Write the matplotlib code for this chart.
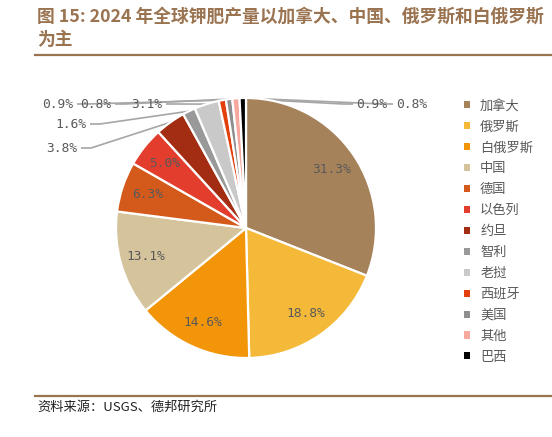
import matplotlib.pyplot as plt
from matplotlib.lines import Line2D
from matplotlib.patches import Patch
import numpy as np

plt.rcParams['font.family'] = ['Noto Sans CJK SC', 'DejaVu Sans']

# ── 数据 ──────────────────────────────────────────────────────────────
countries = ["加拿大", "俄罗斯", "白俄罗斯", "中国", "德国", "以色列", "约旦",
             "智利", "老挝", "西班牙", "美国", "其他", "巴西"]
shares = [31.3, 18.8, 14.6, 13.1, 6.3, 5.0, 3.8, 1.6, 3.1, 0.9, 0.8, 0.9, 0.8]
colors = ["#A6825B", "#F4B938", "#F39508", "#D5C39C", "#D45A1C", "#E23D2D",
          "#A32D12", "#999999", "#C9C9C9", "#E2400C", "#8F8F8F", "#F6A89E",
          "#000000"]

title_lines = ["图 15: 2024 年全球钾肥产量以加拿大、中国、俄罗斯和白俄罗斯", "为主"]
source = "资料来源：USGS、德邦研究所"

W, H = 552, 437
CX, CY, R = 246, 228, 130
TXT = "#595959"
BROWN = "#9A7350"
PCT_FONT = ["DejaVu Sans Mono"]


def px(x, y):
    """像素坐标 -> 数据坐标 (1 = 半径)"""
    return (x - CX) / R, (CY - y) / R


fig = plt.figure(figsize=(W / 100, H / 100), dpi=100)
ax = fig.add_axes([0, 0, 1, 1])

wedges, _ = ax.pie(shares, colors=colors, startangle=90, counterclock=False,
                   radius=1, wedgeprops=dict(edgecolor="white", linewidth=1.6))
ax.set_xlim(-CX / R, (W - CX) / R)
ax.set_ylim(-(H - CY) / R, CY / R)
ax.axis("off")

# 内部标签
for w, v in zip(wedges, shares):
    if v < 5:
        continue
    a = np.deg2rad((w.theta1 + w.theta2) / 2)
    ax.text(0.8 * np.cos(a), 0.8 * np.sin(a), f"{v:.1f}%", ha="center",
            va="center", fontsize=9.3, color=TXT, family=PCT_FONT)

# 外部标签 + 引导线: index -> (文字中心, 引线起点, 水平方向)
outer = {
    6: ((62, 148), (81, 148), 1),
    7: ((71, 124), (90, 124), 1),
    8: ((147, 104), (166, 104), 1),
    9: ((58, 104), (77, 104), 1),
    10: ((96, 104), (115, 104), 1),
    11: ((372, 104), (353, 104), -1),
    12: ((412, 104), (393, 104), -1),
}
for i, (tpos, anchor, d) in outer.items():
    w = wedges[i]
    a = np.deg2rad((w.theta1 + w.theta2) / 2)
    x0, y0 = px(*anchor)
    x1, y1 = px(anchor[0] + d * 10, anchor[1])
    ax.plot([x0, x1, np.cos(a)], [y0, y1, np.sin(a)], color="#A6A6A6",
            lw=1.2, zorder=0, solid_capstyle="butt")
    tx, ty = px(*tpos)
    ax.text(tx, ty, f"{shares[i]:.1f}%", ha="center", va="center",
            fontsize=9.3, color=TXT, family=PCT_FONT)

# 图例
handles = [Patch(facecolor=c, edgecolor="none") for c in colors]
fig.legend(handles, countries, loc="upper left",
           bbox_to_anchor=(457 / W, 1 - 93 / H), frameon=False, fontsize=9.5,
           labelcolor=TXT, handlelength=0.45, handleheight=0.45,
           handletextpad=0.8, labelspacing=0.6, borderpad=0)

# 标题与横线
fig.text(37 / W, 1 - 17 / H, title_lines[0], fontsize=12.8, fontweight="bold",
         color=BROWN, va="center", ha="left")
fig.text(37 / W, 1 - 40 / H, title_lines[1], fontsize=12.8, fontweight="bold",
         color=BROWN, va="center", ha="left")
fig.add_artist(Line2D([35 / W, 1], [1 - 55 / H] * 2, color=BROWN, lw=1.6))
fig.add_artist(Line2D([35 / W, 1], [1 - 396 / H] * 2, color=BROWN, lw=1.6))
fig.text(37 / W, 1 - 407 / H, source, fontsize=9.5, color="#222222",
         va="center", ha="left")

fig.savefig("out.png", dpi=100)
